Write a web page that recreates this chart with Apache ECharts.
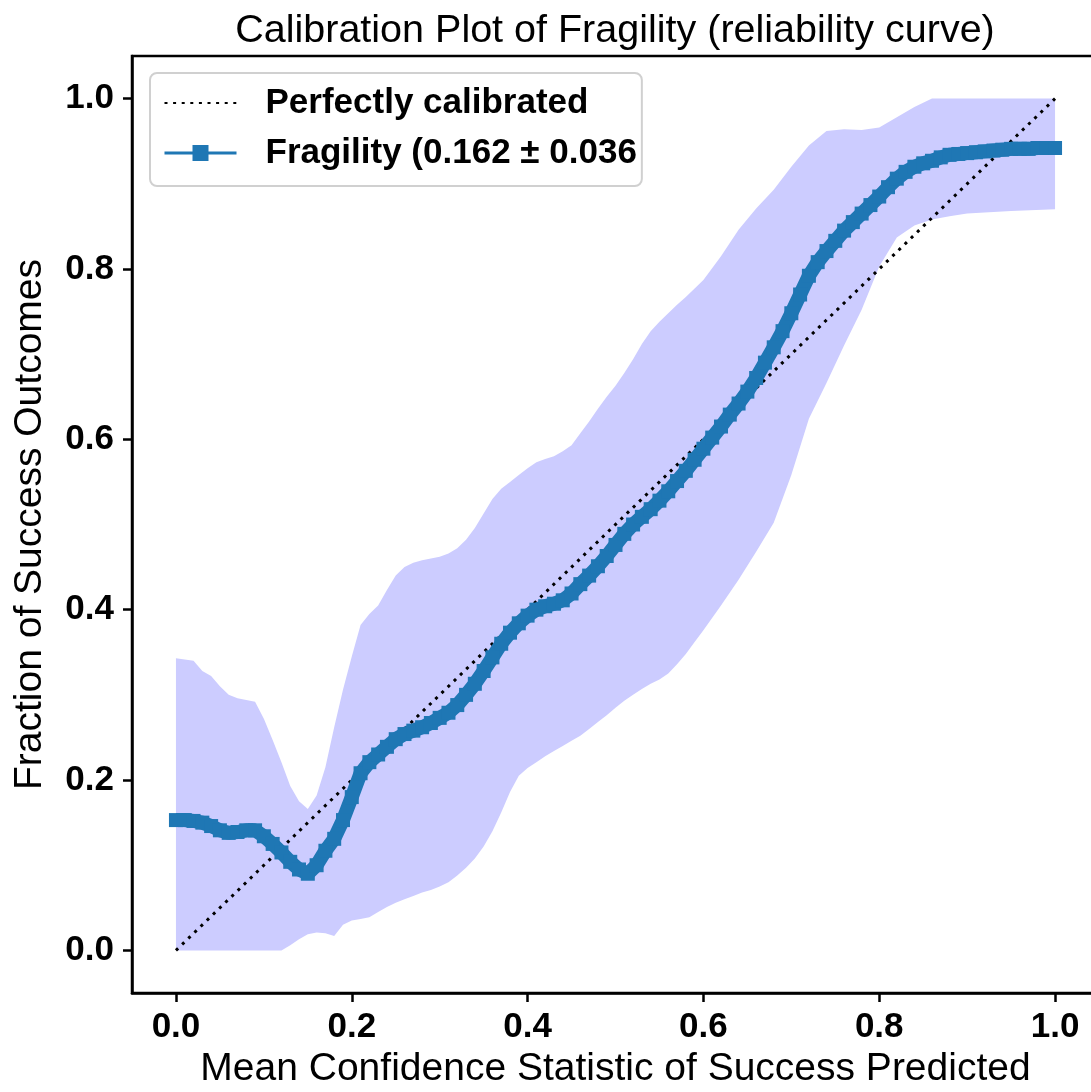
<!DOCTYPE html>
<html>
<head>
<meta charset="utf-8">
<script src="https://cdn.jsdelivr.net/npm/echarts@6/dist/echarts.min.js"></script>
<style>
html,body{margin:0;padding:0;background:#fff;}
#chart{width:1091px;height:1092px;}
</style>
</head>
<body>
<div id="chart"></div>
<script>
const titleText = 'Calibration Plot of Fragility (reliability curve)';
const xName = 'Mean Confidence Statistic of Success Predicted';
const yName = 'Fraction of Success Outcomes';
const diagName = 'Perfectly calibrated';
const curveName = 'Fragility (0.162 \u00b1 0.036';
const tickValues = [0, 0.2, 0.4, 0.6, 0.8, 1.0];
const tickLabels = ['0.0', '0.2', '0.4', '0.6', '0.8', '1.0'];

const diagX = [0, 1];
const diagY = [0, 1];

const curveX = [0.00,0.01,0.02,0.03,0.04,0.05,0.06,0.07,0.08,0.09,
  0.10,0.11,0.12,0.13,0.14,0.15,0.16,0.17,0.18,0.19,
  0.20,0.21,0.22,0.23,0.24,0.25,0.26,0.27,0.28,0.29,
  0.30,0.31,0.32,0.33,0.34,0.35,0.36,0.37,0.38,0.39,
  0.40,0.41,0.42,0.43,0.44,0.45,0.46,0.47,0.48,0.49,
  0.50,0.51,0.52,0.53,0.54,0.55,0.56,0.57,0.58,0.59,
  0.60,0.61,0.62,0.63,0.64,0.65,0.66,0.67,0.68,0.69,
  0.70,0.71,0.72,0.73,0.74,0.75,0.76,0.77,0.78,0.79,
  0.80,0.81,0.82,0.83,0.84,0.85,0.86,0.87,0.88,0.89,
  0.90,0.91,0.92,0.93,0.94,0.95,0.96,0.97,0.98,0.99,1.00];
const curveY = [0.153,0.153,0.152,0.150,0.146,0.141,0.138,0.139,0.141,0.141,
  0.134,0.125,0.115,0.104,0.095,0.090,0.100,0.117,0.131,0.153,
  0.180,0.208,0.221,0.230,0.239,0.248,0.254,0.258,0.262,0.267,
  0.273,0.279,0.288,0.300,0.313,0.328,0.344,0.360,0.373,0.384,
  0.393,0.400,0.404,0.407,0.411,0.419,0.430,0.440,0.451,0.463,
  0.476,0.489,0.500,0.509,0.518,0.528,0.539,0.551,0.563,0.576,
  0.589,0.602,0.615,0.629,0.642,0.656,0.672,0.690,0.708,0.727,
  0.748,0.770,0.792,0.808,0.821,0.833,0.845,0.855,0.865,0.875,
  0.885,0.896,0.906,0.914,0.920,0.924,0.927,0.931,0.934,0.935,
  0.936,0.937,0.938,0.939,0.940,0.941,0.941,0.941,0.942,0.942,0.942];

const bandX = [0.00,0.02,0.03,0.04,0.05,0.06,0.07,0.08,0.09,0.10,
  0.11,0.12,0.13,0.14,0.15,0.16,0.17,0.18,0.19,0.20,
  0.21,0.22,0.23,0.24,0.25,0.26,0.27,0.28,0.29,0.30,
  0.31,0.32,0.33,0.34,0.35,0.36,0.37,0.38,0.39,0.40,
  0.41,0.42,0.43,0.44,0.45,0.46,0.47,0.48,0.49,0.50,
  0.51,0.52,0.53,0.54,0.55,0.56,0.57,0.58,0.59,0.60,
  0.62,0.64,0.66,0.68,0.70,0.72,0.74,0.76,0.78,0.80,
  0.82,0.84,0.86,0.88,0.90,0.95,1.00];
const bandUpper = [0.343,0.340,0.328,0.322,0.310,0.300,0.296,0.294,0.292,0.272,
  0.247,0.221,0.193,0.175,0.166,0.182,0.215,0.262,0.306,0.345,
  0.382,0.395,0.405,0.423,0.440,0.450,0.455,0.458,0.460,0.462,
  0.466,0.472,0.482,0.496,0.513,0.530,0.542,0.550,0.558,0.566,
  0.573,0.577,0.580,0.586,0.593,0.607,0.621,0.636,0.650,0.663,
  0.678,0.694,0.712,0.727,0.738,0.748,0.758,0.767,0.777,0.787,
  0.815,0.846,0.871,0.893,0.920,0.945,0.962,0.964,0.963,0.966,
  0.978,0.990,1.000,1.000,1.000,1.000,1.000];
const bandLower = [0,0,0,0,0,0,0,0,0,0,
  0,0,0.006,0.013,0.019,0.021,0.020,0.017,0.030,0.035,
  0.037,0.039,0.045,0.051,0.056,0.060,0.064,0.068,0.071,0.075,
  0.080,0.088,0.097,0.108,0.122,0.140,0.162,0.186,0.205,0.214,
  0.221,0.228,0.234,0.240,0.246,0.252,0.260,0.268,0.276,0.285,
  0.293,0.300,0.307,0.313,0.318,0.325,0.336,0.348,0.362,0.376,
  0.405,0.435,0.468,0.502,0.558,0.624,0.666,0.710,0.752,0.803,
  0.837,0.851,0.858,0.862,0.865,0.868,0.870];

const chart = echarts.init(document.getElementById('chart'), null, {renderer: 'canvas'});
const FONT = '"Liberation Sans", Arial, Helvetica, sans-serif';

const bandData = bandX.map((x, i) => [x, bandUpper[i], bandLower[i]]);
const fmt = v => {
  const k = tickValues.findIndex(t => Math.abs(t - v) < 1e-9);
  return k >= 0 ? tickLabels[k] : '';
};

const option = {
  animation: false,
  backgroundColor: '#ffffff',
  title: {
    text: titleText,
    left: 610,
    textAlign: 'center',
    top: 6,
    textStyle: {fontFamily: FONT, fontSize: 39.5, fontWeight: 'normal', color: '#000'}
  },
  grid: {
    left: 132, top: 56, width: 967, height: 937,
    outerBoundsMode: 'none',
    containLabel: false,
    show: true, borderColor: '#000', borderWidth: 2.5, backgroundColor: 'transparent'
  },
  legend: {
    orient: 'vertical',
    left: 150, top: 73,
    padding: [12, 5, 15, 13],
    itemGap: 14,
    itemWidth: 72,
    itemHeight: 20,
    backgroundColor: 'rgba(255,255,255,0.8)',
    borderColor: '#d0d0d0',
    borderWidth: 2,
    borderRadius: 7,
    data: [
      {name: diagName, itemStyle: {opacity: 0}},
      {name: curveName, lineStyle: {width: 3}}
    ],
    textStyle: {fontFamily: FONT, fontSize: 35, fontWeight: 'bold', color: '#000', padding: [0, 0, 0, 24], lineHeight: 36}
  },
  xAxis: {
    type: 'value', min: -0.05, max: 1.05,
    name: xName, nameLocation: 'middle', nameGap: 54,
    nameTextStyle: {fontFamily: FONT, fontSize: 39, color: '#000'},
    axisLine: {show: true, onZero: false, lineStyle: {color: '#000', width: 2.5}},
    axisTick: {show: true, customValues: tickValues, length: 9, lineStyle: {color: '#000', width: 2.5}},
    axisLabel: {
      customValues: tickValues, margin: 17,
      fontFamily: FONT, fontSize: 35, fontWeight: 'bold', color: '#000',
      formatter: fmt
    },
    splitLine: {show: false}
  },
  yAxis: {
    type: 'value', min: -0.05, max: 1.05,
    name: yName, nameLocation: 'middle', nameGap: 82,
    nameTextStyle: {fontFamily: FONT, fontSize: 39, color: '#000'},
    axisLine: {show: true, onZero: false, lineStyle: {color: '#000', width: 2.5}},
    axisTick: {show: true, customValues: tickValues, length: 9, lineStyle: {color: '#000', width: 2.5}},
    axisLabel: {
      customValues: tickValues, margin: 18,
      fontFamily: FONT, fontSize: 35, fontWeight: 'bold', color: '#000',
      formatter: fmt
    },
    splitLine: {show: false}
  },
  series: [
    {
      type: 'custom',
      name: 'band',
      z: 1,
      silent: true,
      data: bandData,
      encode: {x: 0, y: [1, 2]},
      renderItem: function (params, api) {
        if (params.dataIndex !== 0) return null;
        const pts = [];
        for (let i = 0; i < bandX.length; i++) pts.push(api.coord([bandX[i], bandUpper[i]]));
        for (let i = bandX.length - 1; i >= 0; i--) pts.push(api.coord([bandX[i], bandLower[i]]));
        return {type: 'polygon', shape: {points: pts}, style: {fill: '#ccccff', stroke: null}};
      }
    },
    {
      type: 'line',
      name: diagName,
      z: 3,
      data: diagX.map((x, i) => [x, diagY[i]]),
      symbol: 'none',
      showSymbol: false,
      lineStyle: {color: '#000', width: 3, type: [3, 5.6]},
      itemStyle: {color: '#000'}
    },
    {
      type: 'line',
      name: curveName,
      z: 4,
      data: curveX.map((x, i) => [x, curveY[i]]),
      symbol: 'rect',
      symbolSize: 14,
      showSymbol: true,
      showAllSymbol: true,
      lineStyle: {color: '#1f77b4', width: 14},
      itemStyle: {color: '#1f77b4'}
    }
  ]
};
chart.setOption(option);
</script>
</body>
</html>
